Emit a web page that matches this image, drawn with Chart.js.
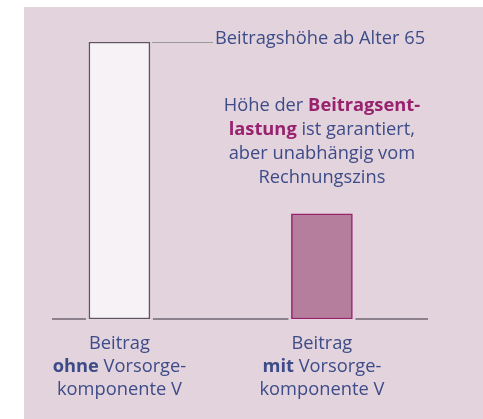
<!DOCTYPE html>
<html lang="de">
  <head>
    <title>Beitragsentlastung</title>
    <style>
      html, body { margin: 0; padding: 0; background: #ffffff; }
      #wrap { width: 483px; height: 419px; }
    </style>
  </head>
  <body>
    <div id="wrap">
      <canvas id="myChart" width="483" height="419"></canvas>
    </div>

    <script src="https://cdn.jsdelivr.net/npm/chart.js"></script>

    <script>
      // categories and values (relative contribution height)
      var categories = ["ohne", "mit"];
      var values = [100, 38];

      // label lines: [text, bold] segments
      var catLabels = [
        [[["Beitrag", false]], [["ohne", true], [" Vorsorge-", false]], [["komponente V", false]]],
        [[["Beitrag", false]], [["mit", true], [" Vorsorge-", false]], [["komponente V", false]]]
      ];
      var topNote = "Beitragshöhe ab Alter 65";
      var noteLines = [
        [["Höhe der ", false], ["Beitragsent-", true]],
        [["lastung", true], [" ist garantiert,", false]],
        [["aber unabhängig vom", false]],
        [["Rechnungszins", false]]
      ];

      var FONT = "'Open Sans', sans-serif";
      var SIZE = 18.3;
      var BLUE = "#3d4c88";
      var MAGENTA = "#98226e";
      var PANEL = "#e3d3dc";

      function drawLine(ctx, segs, cx, y, boldColor) {
        var total = 0;
        segs.forEach(function (s) {
          ctx.font = (s[1] ? "bold " : "") + SIZE + "px " + FONT;
          total += ctx.measureText(s[0]).width;
        });
        var x = cx - total / 2;
        segs.forEach(function (s) {
          ctx.font = (s[1] ? "bold " : "") + SIZE + "px " + FONT;
          ctx.fillStyle = s[1] ? boldColor : BLUE;
          ctx.fillText(s[0], x, y);
          x += ctx.measureText(s[0]).width;
        });
      }

      var decor = {
        id: "decor",
        beforeDraw: function (chart) {
          var ctx = chart.ctx;
          ctx.save();
          ctx.fillStyle = PANEL;
          ctx.fillRect(24, 7, chart.width - 24, chart.height - 7);
          ctx.restore();
        },
        beforeDatasetsDraw: function (chart) {
          var ctx = chart.ctx;
          var area = chart.chartArea;
          var y0 = chart.scales.y.getPixelForValue(0);
          ctx.save();
          ctx.strokeStyle = "#3a3040";
          ctx.lineWidth = 1.2;
          ctx.beginPath();
          ctx.moveTo(area.left, y0);
          ctx.lineTo(area.right, y0);
          ctx.stroke();
          // gaps around the bars
          var meta = chart.getDatasetMeta(0);
          ctx.fillStyle = PANEL;
          meta.data.forEach(function (bar) {
            var w = bar.width;
            ctx.fillRect(bar.x - w / 2 - 3, y0 - 3, w + 6, 6);
          });
          ctx.restore();
        },
        afterDatasetsDraw: function (chart) {
          var ctx = chart.ctx;
          var xs = chart.scales.x;
          var ys = chart.scales.y;
          var meta = chart.getDatasetMeta(0);
          ctx.save();
          // connector line from the tall bar to the note
          var b0 = meta.data[0];
          var topY = ys.getPixelForValue(values[0]);
          ctx.strokeStyle = "#9a9a9e";
          ctx.lineWidth = 1;
          ctx.beginPath();
          ctx.moveTo(b0.x + b0.width / 2 + 2, topY + 0.5);
          ctx.lineTo(213, topY + 0.5);
          ctx.stroke();

          ctx.textBaseline = "alphabetic";
          ctx.textAlign = "left";
          ctx.font = SIZE + "px " + FONT;
          ctx.fillStyle = BLUE;
          ctx.fillText(topNote, 215, topY + 2);

          var cx2 = xs.getPixelForValue(1);
          noteLines.forEach(function (segs, i) {
            drawLine(ctx, segs, cx2, 111 + i * 24, MAGENTA);
          });

          categories.forEach(function (c, i) {
            var cx = xs.getPixelForValue(i);
            catLabels[i].forEach(function (segs, j) {
              drawLine(ctx, segs, cx, 349 + j * 23, BLUE);
            });
          });
          ctx.restore();
        }
      };

      const ctx = document.getElementById("myChart");
      new Chart(ctx, {
        type: "bar",
        data: {
          labels: categories,
          datasets: [
            {
              data: values.map(function (v, i) { return { x: i, y: v }; }),
              backgroundColor: ["#f7f2f5", "#b57e9c"],
              borderColor: ["#5e5560", MAGENTA],
              borderWidth: 1.5,
              borderSkipped: false,
              barThickness: 61
            }
          ]
        },
        options: {
          responsive: false,
          animation: false,
          events: [],
          layout: { padding: { left: 52, right: 55, top: 42, bottom: 100 } },
          plugins: { legend: { display: false }, tooltip: { enabled: false } },
          scales: {
            x: { type: "linear", display: false, offset: false, min: -0.333, max: 1.524 },
            y: { display: false, min: 0, max: 100 }
          }
        },
        plugins: [decor]
      });
    </script>
  </body>
</html>
